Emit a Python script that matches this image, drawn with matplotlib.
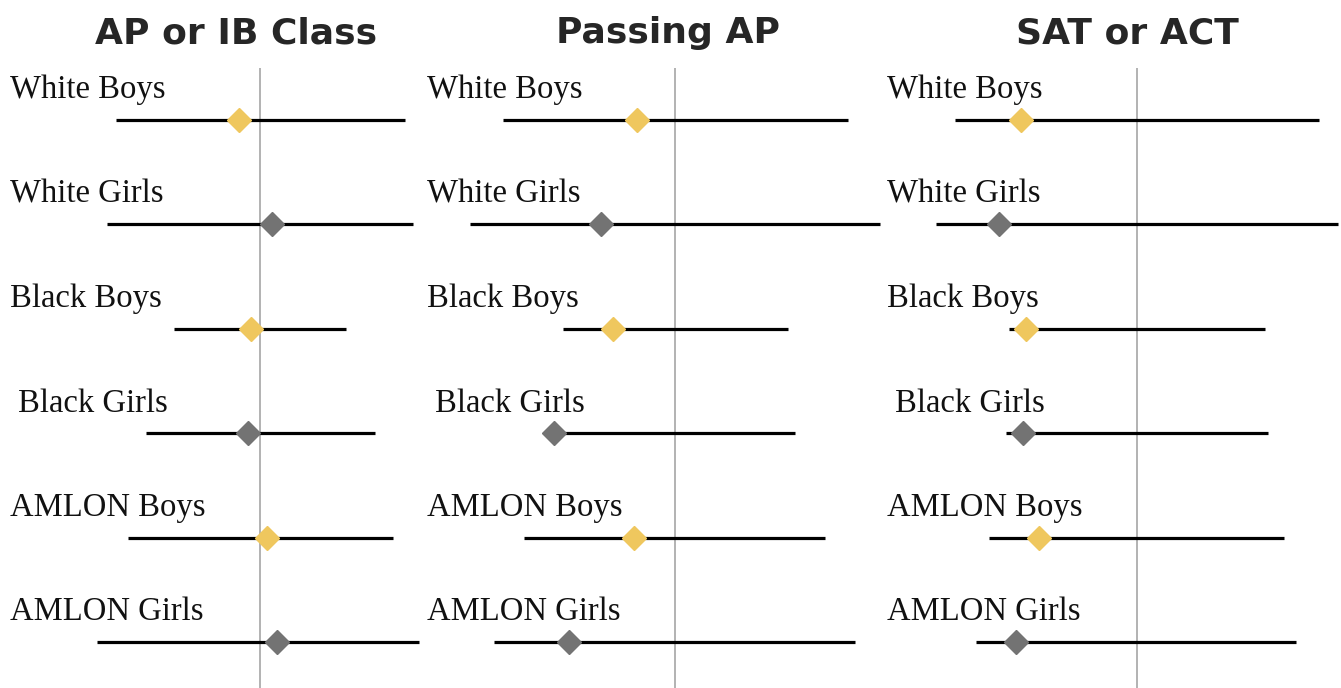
import matplotlib
matplotlib.use("Agg")
import matplotlib.pyplot as plt

# ---- data (effect estimates and interval bounds, relative to the reference line at 0) ----
groups = ["White Boys", "White Girls", "Black Boys", "Black Girls", "AMLON Boys", "AMLON Girls"]
panel_titles = ["AP or IB Class", "Passing AP", "SAT or ACT"]

ap_ib_est = [-0.21, 0.12, -0.09, -0.12, 0.07, 0.17]
ap_ib_low = [-1.44, -1.53, -0.86, -1.14, -1.32, -1.63]
ap_ib_high = [1.45, 1.53, 0.86, 1.15, 1.33, 1.59]

pass_ap_est = [-0.38, -0.74, -0.62, -1.21, -0.41, -1.06]
pass_ap_low = [-1.72, -2.05, -1.12, -1.22, -1.51, -1.81]
pass_ap_high = [1.73, 2.05, 1.13, 1.20, 1.50, 1.80]

sat_act_est = [-1.16, -1.38, -1.11, -1.14, -0.98, -1.21]
sat_act_low = [-1.82, -2.01, -1.28, -1.31, -1.48, -1.61]
sat_act_high = [1.82, 2.01, 1.28, 1.31, 1.47, 1.59]

panels = [
    (ap_ib_est, ap_ib_low, ap_ib_high),
    (pass_ap_est, pass_ap_low, pass_ap_high),
    (sat_act_est, sat_act_low, sat_act_high),
]

# ---- styling / layout ----
W, H = 1341, 688
GOLD = "#EFC75E"
GRAY = "#737373"
marker_colors = [GOLD, GRAY, GOLD, GRAY, GOLD, GRAY]
label_indent = [0, 0, 0, 8, 0, 0]

# pixel geometry of panels: (left, right, reference-line x, label x, title centre x)
geom = [
    (0, 424, 260, 10, 236),
    (424, 884, 675, 427, 668),
    (884, 1341, 1137, 887, 1127),
]
S = 100.0           # pixels per data unit
top_px, row0_px, row_step = 68, 120, 104.4

fig = plt.figure(figsize=(W / 100, H / 100), dpi=100)
fig.patch.set_facecolor("white")

for (est, low, high), (l, r, ref, lx, tx), title in zip(panels, geom, panel_titles):
    ax = fig.add_axes([l / W, 0, (r - l) / W, (H - top_px) / H])
    ax.set_facecolor("none")
    ax.set_xlim((l - ref) / S, (r - ref) / S)
    ax.set_ylim((H - row0_px) / row_step, (top_px - row0_px) / row_step)
    ax.axis("off")

    ax.axvline(0, color="#9E9E9E", lw=1.1, zorder=1)
    ys = list(range(len(groups)))
    ax.hlines(ys, low, high, color="black", lw=2.3, zorder=2, clip_on=False)
    for y, e, c in zip(ys, est, marker_colors):
        ax.plot([e], [y], marker="D", ms=12.2, color=c, mec=c, lw=0, zorder=3, clip_on=False)

    for y, g, ind in zip(ys, groups, label_indent):
        ax.annotate(g, xy=((lx + ind - l) / (r - l), y), xycoords=("axes fraction", "data"),
                    xytext=(0, 15.5), textcoords="offset points",
                    ha="left", va="baseline", fontsize=23.5,
                    family="Liberation Serif", color="#111111", annotation_clip=False)

    fig.text(tx / W, 1 - 43 / H, title, ha="center", va="baseline",
             fontsize=26, fontweight="bold", family="DejaVu Sans", color="#262626")

fig.savefig("out.png", dpi=100, facecolor="white")
